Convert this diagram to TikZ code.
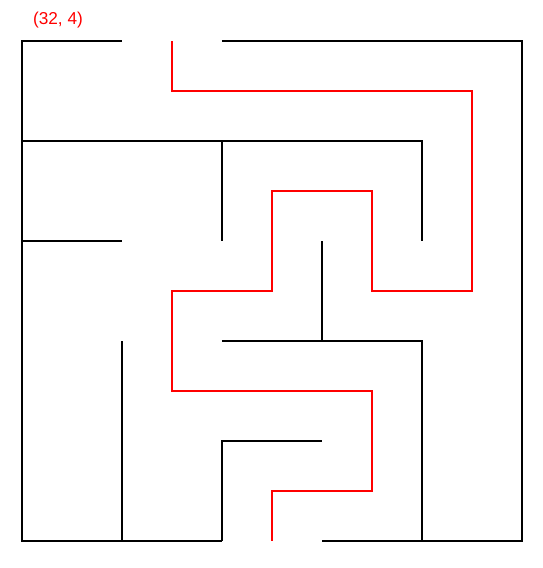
\documentclass[tikz,border=0pt]{standalone}
\usepackage{fontspec}
\setmainfont{Liberation Sans}
\usepackage{xcolor}
\usepackage{tikz}
\usetikzlibrary{positioning,calc}

\tikzset{
  wall/.style={line width=0.57pt, black},
  route/.style={line width=0.57pt, red}
}

\begin{document}
\begin{tikzpicture}[x=1cm, y=-1cm]
  \useasboundingbox (-0.22,-0.41) rectangle (5.21,5.27);

  % Outer walls (entry top, exit bottom)
  \draw[wall] (1,0) -- (0,0) -- (0,5) -- (2,5);
  \draw[wall] (2,0) -- (5,0) -- (5,5) -- (3,5);

  % Inner walls
  \draw[wall] (0,1) -- (4,1) -- (4,2);
  \draw[wall] (2,1) -- (2,2);
  \draw[wall] (0,2) -- (1,2);
  \draw[wall] (3,2) -- (3,3);
  \draw[wall] (2,3) -- (4,3) -- (4,5);
  \draw[wall] (1,3) -- (1,5);
  \draw[wall] (3,4) -- (2,4) -- (2,5);

  % Solution path
  \draw[route] (1.5,0) -- (1.5,0.5) -- (4.5,0.5) -- (4.5,2.5) -- (3.5,2.5)
    -- (3.5,1.5) -- (2.5,1.5) -- (2.5,2.5) -- (1.5,2.5) -- (1.5,3.5)
    -- (3.5,3.5) -- (3.5,4.5) -- (2.5,4.5) -- (2.5,5);

  % Start label
  \node[red, font=\fontsize{4.9}{6}\selectfont, inner sep=0pt] (startlabel) at (0.36,-0.21) {(32, 4)};
\end{tikzpicture}
\end{document}
